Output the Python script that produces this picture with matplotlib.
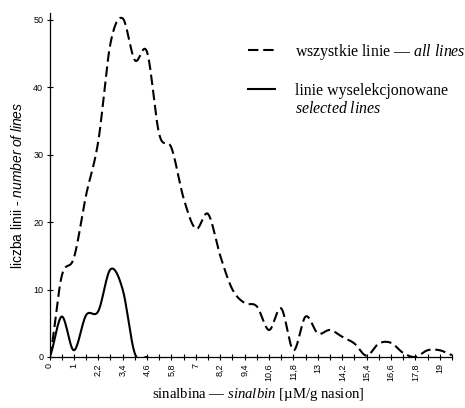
#-*-coding:utf-8 -*-
import numpy as np
import matplotlib
matplotlib.use('Agg')
import matplotlib.pyplot as plt
from matplotlib.lines import Line2D

# kategorie osi x (zawartość sinalbiny, µM/g nasion)
kategorie = ['0', '0,4', '1', '1,6', '2,2', '2,8', '3,4', '4', '4,6', '5,2',
             '5,8', '6,4', '7', '7,6', '8,2', '8,8', '9,4', '10', '10,6', '11,2',
             '11,8', '12,4', '13', '13,6', '14,2', '14,8', '15,4', '16', '16,6',
             '17,2', '17,8', '18,4', '19', '19,6']
# wszystkie linie - all lines
wszystkie = [0, 12, 14.7, 24, 32, 46.5, 50.2, 44, 45.2, 33,
             31, 23.5, 19, 21.2, 15, 10, 8, 7.5, 4, 7.2,
             1, 6, 3.5, 4, 3, 2, 0.2, 2, 2.1, 0.6,
             0, 1, 1, 0.3]
# linie wyselekcjonowane - selected lines (tylko pierwsze kategorie)
wyselekcjonowane = [0, 6, 1, 6.2, 6.8, 13, 10, 0.5, 0]

# wygładzanie jak w Excelu (krzywe Beziera / Catmull-Rom)
def gladka(y, n=20):
    y = np.asarray(y, dtype=float)
    x = np.arange(len(y), dtype=float)
    xs, ys = [], []
    for i in range(len(y) - 1):
        p0 = y[max(i - 1, 0)]
        p1 = y[i]
        p2 = y[i + 1]
        p3 = y[min(i + 2, len(y) - 1)]
        c1 = p1 + (p2 - p0) / 6.0
        c2 = p2 - (p3 - p1) / 6.0
        t = np.linspace(0, 1, n, endpoint=(i == len(y) - 2))
        b = (1 - t)**3 * p1 + 3 * (1 - t)**2 * t * c1 + 3 * (1 - t) * t**2 * c2 + t**3 * p2
        xs.append(x[i] + t)
        ys.append(b)
    return np.concatenate(xs), np.concatenate(ys)

plt.rcParams['mathtext.fontset'] = 'custom'
plt.rcParams['mathtext.it'] = 'Liberation Serif:italic'
plt.rcParams['mathtext.rm'] = 'Liberation Serif'
plt.rcParams['mathtext.sf'] = 'Liberation Sans:italic'

fig = plt.figure(figsize=(4.65, 4.08), dpi=100)
ax = fig.add_axes([49.5/465, 1 - 357/408, (452 - 49.5)/465, (357 - 13)/408])

xa, ya = gladka(wszystkie)
xs, ys = gladka(wyselekcjonowane)
ax.plot(xa, ya, color='black', lw=1.5, linestyle=(0, (5, 2.3)))
ax.plot(xs, ys, color='black', lw=1.5)

ax.set_xlim(0, len(kategorie) - 1)
ax.set_ylim(0, 51)
ax.set_xticks(np.arange(len(kategorie)))
ax.set_xticklabels([k if i % 2 == 0 else '' for i, k in enumerate(kategorie)],
                   rotation=90, fontsize=6.5, family='Liberation Sans')
ax.set_yticks([0, 10, 20, 30, 40, 50])
ax.set_yticklabels(['0', '10', '20', '30', '40', '50'], fontsize=6.5, family='Liberation Sans')
ax.tick_params(direction='inout', length=5, width=0.8, pad=2)

for s in ['top', 'right']:
    ax.spines[s].set_visible(False)
for s in ['left', 'bottom']:
    ax.spines[s].set_linewidth(0.9)

ax.set_ylabel(r'liczba linii - $\mathsf{number\ of\ lines}$', fontsize=10, family='Liberation Sans')
ax.yaxis.set_label_coords(-0.062, 0.5)
ax.set_xlabel(r'sinalbina — $\mathit{sinalbin}$ [µM/g nasion]', fontsize=10.6, family='Liberation Serif')
ax.xaxis.set_label_coords(0.518, -0.085)

# legenda
uchwyty = [Line2D([], [], color='black', lw=1.5, linestyle=(0, (5, 2.3))),
           Line2D([], [], color='none'),
           Line2D([], [], color='black', lw=1.5),
           Line2D([], [], color='none')]
etykiety = [r'wszystkie linie — $\mathit{all\ lines}$', ' ',
            'linie wyselekcjonowane', r'$\mathit{selected\ lines}$']
fig.legend(uchwyty, etykiety, loc='upper left', bbox_to_anchor=(248/465, 1 - 42/408),
           frameon=False, prop={'family': 'Liberation Serif', 'size': 11.4},
           handlelength=1.7, handletextpad=1.26, labelspacing=0.15,
           borderpad=0, borderaxespad=0)

plt.savefig('out.png', dpi=100)
